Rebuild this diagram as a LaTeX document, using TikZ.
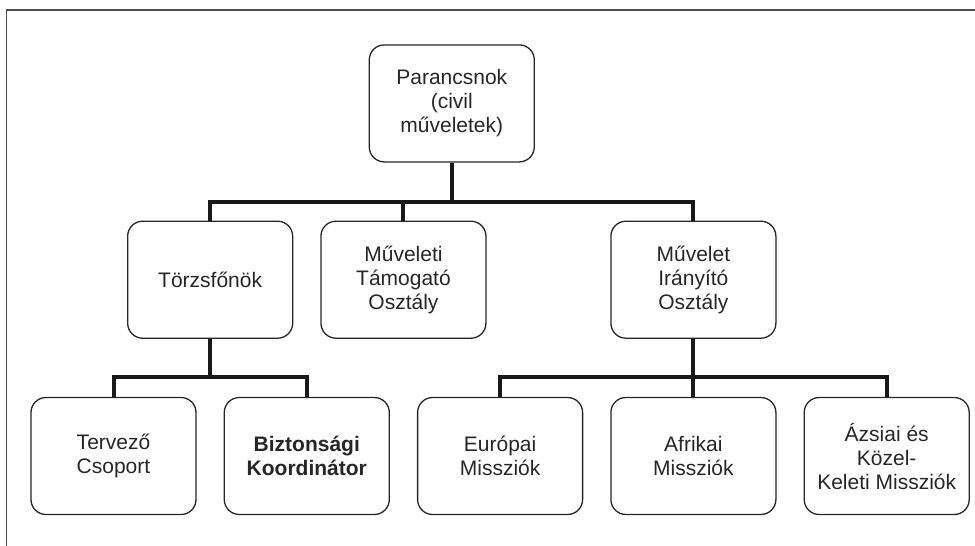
\documentclass[tikz,border=0pt]{standalone}
\usepackage{fontspec}
\setmainfont{Liberation Sans}
\usetikzlibrary{positioning}

\begin{document}
\begin{tikzpicture}[
        box/.style={draw=black!85, line width=1.3pt, rounded corners=15pt,
            minimum width=165pt, minimum height=117pt, inner sep=0pt,
            align=center, text=black!85, font=\fontsize{21}{24}\selectfont},
        bus/.style={line width=4pt, black!90},
        node distance=58pt and 27pt]
        \useasboundingbox (0,0) rectangle (975pt,-546pt);
        \draw[line width=1.5pt, black!70] (6.5pt,-546pt) -- (6.5pt,-10pt) -- (975pt,-10pt);

        \node[box] (box 4) at (113.5pt,-456pt) {Tervező\\Csoport};
        \node[box,right=of box 4] (box 5) {\textbf{Biztonsági}\\\textbf{Koordinátor}};
        \node[box,right=of box 5] (box 6) {Európai\\Missziók};
        \node[box,right=of box 6] (box 7) {Afrikai\\Missziók};
        \node[box,right=of box 7] (box 8) {Ázsiai és\\Közel-\\Keleti Missziók};

        \path (box 4.north) -- (box 5.north) coordinate[midway] (temp 1);
        \path (box 5.north) -- (box 6.north) coordinate[midway] (temp 2);

        \node[box,above=of temp 1] (box 1) {Törzsfőnök};
        \node[box,above=of temp 2] (box 2) {Műveleti\\Támogató\\Osztály};
        \node[box,above=of box 7] (box 3) {Művelet\\Irányító\\Osztály};

        \path (box 1.north) -- (box 3.north) coordinate[midway] (temp 0);

        \node[box,above=of temp 0] (box 0) {Parancsnok\\(civil\\műveletek)};

        \foreach \i in {1,2,3}
        \draw[bus] (box 0.south) |- ([yshift=19pt]box \i.north) -- (box \i.north);
        \foreach \i in {4,5}
        \draw[bus] (box 1.south) |- ([yshift=20pt]box \i.north) -- (box \i.north);
        \foreach \i in {6,7,8}
        \draw[bus] (box 3.south) |- ([yshift=20pt]box \i.north) -- (box \i.north);

    \end{tikzpicture}
\end{document}
